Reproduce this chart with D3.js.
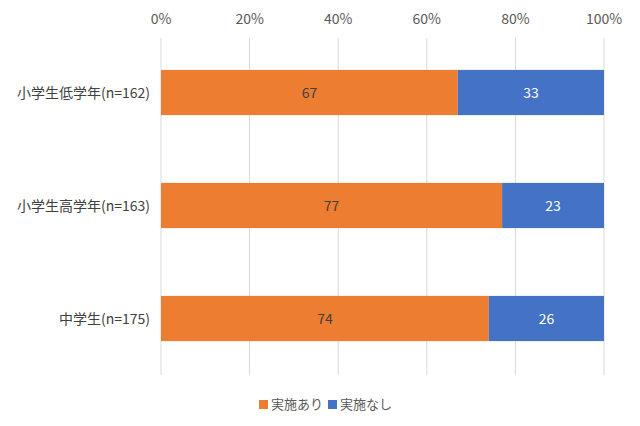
<!DOCTYPE html>
<html><head><meta charset="utf-8">
<script src="https://cdn.jsdelivr.net/npm/d3@7"></script>
<style>body{margin:0;background:#fff}text{font-family:"Noto Sans CJK JP","Noto Sans",sans-serif}</style>
</head><body><svg id="c" width="640" height="426"></svg>
<script>
const categories=["小学生低学年(n=162)","小学生高学年(n=163)","中学生(n=175)"];
const seriesNames=["実施あり","実施なし"];
const jisshiAri=[67,77,74];
const jisshiNashi=[33,23,26];
const tickValues=[0,20,40,60,80,100];
const colors=["#ED7D31","#4472C4"];
const labelColors=["#404040","#ffffff"];

const svg=d3.select("#c");
const x=d3.scaleLinear().domain([0,100]).range([161,604]);
const y=d3.scaleBand().domain(categories).range([36,375]).paddingInner(0.6).paddingOuter(0.3);

svg.append("g").selectAll("line").data(tickValues).join("line")
 .attr("x1",d=>x(d)).attr("x2",d=>x(d)).attr("y1",38).attr("y2",375)
 .attr("stroke","#d9d9d9").attr("stroke-width",1);
svg.append("g").selectAll("text").data(tickValues).join("text")
 .attr("x",d=>x(d)).attr("y",24).attr("text-anchor","middle")
 .attr("font-size",14).attr("fill","#595959").text(d=>d+"%");

const data=categories.map((c,i)=>({c,vals:[jisshiAri[i],jisshiNashi[i]]}));
data.forEach(d=>{
  let acc=0;
  d.vals.forEach((v,k)=>{
    const total=d.vals[0]+d.vals[1];
    const x0=x(acc/total*100), x1=x((acc+v)/total*100);
    svg.append("rect").attr("x",x0).attr("y",y(d.c)).attr("width",x1-x0).attr("height",y.bandwidth()).attr("fill",colors[k]);
    svg.append("text").attr("x",(x0+x1)/2).attr("y",y(d.c)+y.bandwidth()/2+5)
     .attr("text-anchor","middle").attr("font-size",14).attr("fill",labelColors[k]).text(v);
    acc+=v;
  });
  svg.append("text").attr("x",150).attr("y",y(d.c)+y.bandwidth()/2+5)
   .attr("text-anchor","end").attr("font-size",14).attr("fill","#404040").text(d.c);
});

const lg=svg.append("g");
const lx=[259,328];
seriesNames.forEach((s,k)=>{
  lg.append("rect").attr("x",lx[k]).attr("y",400).attr("width",9).attr("height",9).attr("fill",colors[k]);
  lg.append("text").attr("x",lx[k]+12).attr("y",409).attr("font-size",13).attr("fill","#595959").text(s);
});
</script></body></html>
